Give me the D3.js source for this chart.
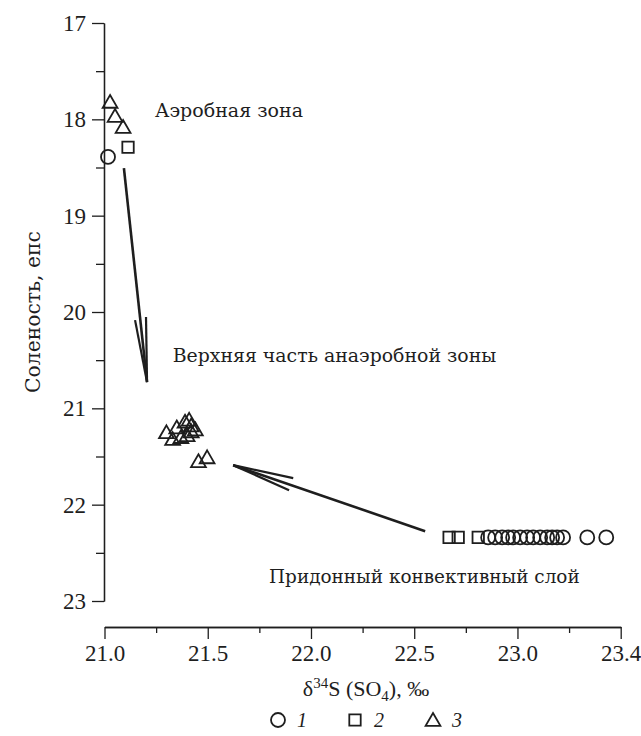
<!DOCTYPE html>
<html>
<head>
<meta charset="utf-8">
<script src="https://cdn.jsdelivr.net/npm/d3@7/dist/d3.min.js"></script>
<style>
  body { margin: 0; background: #fff; }
</style>
</head>
<body>
<svg width="641" height="736"></svg>
<script>
// --- данные ---
const xTicks = [21.0, 21.5, 22.0, 22.5, 23.0, 23.5];
const xTickLabels = ["21.0", "21.5", "22.0", "22.5", "23.0", "23.4"];
const xMinor = [21.25, 21.75, 22.25, 22.75, 23.25];
const yTicks = [17, 18, 19, 20, 21, 22, 23];
const yMinor = [17.5, 18.5, 19.5, 20.5, 21.5, 22.5];

// 1 — круги
const circles = [
  [21.017, 18.39],
  [22.858, 22.34], [22.892, 22.34], [22.926, 22.34], [22.955, 22.34], [22.979, 22.34],
  [23.013, 22.34], [23.047, 22.34], [23.076, 22.34], [23.11, 22.34], [23.144, 22.34],
  [23.168, 22.34], [23.192, 22.34], [23.221, 22.34], [23.338, 22.34], [23.43, 22.34]
];
// 2 — квадраты
const squares = [
  [21.114, 18.29],
  [22.669, 22.34], [22.713, 22.34], [22.81, 22.34]
];
// 3 — треугольники
const triangles = [
  [21.027, 17.82], [21.051, 17.966], [21.09, 18.08],
  [21.30, 21.25], [21.33, 21.32], [21.35, 21.2], [21.37, 21.3], [21.39, 21.14],
  [21.41, 21.12], [21.42, 21.18], [21.42, 21.24], [21.40, 21.28], [21.44, 21.22],
  [21.455, 21.55], [21.497, 21.51]
];

// стрелки: хвост, острие, два уса
const arrows = [
  { from: [21.094, 18.506], to: [21.206, 20.728], barbs: [[21.148, 20.084], [21.201, 20.053]] },
  { from: [22.553, 22.275], to: [21.623, 21.59], barbs: [[21.914, 21.725], [21.894, 21.85]] }
];

const notes = [
  { text: "Аэробная зона", x: 21.245, y: 17.976 },
  { text: "Верхняя часть анаэробной зоны", x: 21.33, y: 20.52 },
  { text: "Придонный конвективный слой", x: 21.797, y: 22.815 }
];

const legendItems = ["1", "2", "3"];

// --- рисунок ---
const svg = d3.select("svg");
const latin = "'Liberation Serif', 'DejaVu Serif', serif";
const cyr = "'DejaVu Serif', serif";
const ink = "#1e1e1e";

// подгонка ширины надписи
function fit(sel, target) {
  const w = sel.node().getComputedTextLength();
  sel.attr("font-size", +sel.attr("font-size") * target / w);
}

const x = d3.scaleLinear().domain([21, 23.5]).range([104.5, 620.7]);
const y = d3.scaleLinear().domain([17, 23]).range([23, 601]);

// ось Y
const gy = svg.append("g").attr("transform", "translate(104,0)");
gy.call(d3.axisLeft(y).tickValues(yTicks).tickSize(12).tickSizeOuter(0).tickPadding(6).tickFormat(d3.format("d")));
gy.append("g").call(d3.axisLeft(y).tickValues(yMinor).tickSize(8).tickSizeOuter(0).tickFormat(""));

// ось X
const gx = svg.append("g").attr("transform", "translate(0,627)");
gx.call(d3.axisBottom(x).tickValues(xTicks).tickSize(12).tickSizeOuter(0).tickPadding(6)
  .tickFormat((d, i) => xTickLabels[i]));
gx.append("g").call(d3.axisBottom(x).tickValues(xMinor).tickSize(6).tickSizeOuter(0).tickFormat(""));

svg.selectAll("g").attr("font-family", latin);
svg.selectAll(".domain, .tick line").attr("stroke", ink).attr("stroke-width", 1.3);
svg.selectAll(".tick text")
  .attr("font-size", 23).attr("fill", ink)
  .attr("font-family", latin).style("font-family", latin);

// подписи осей
const yt = svg.append("text")
  .attr("transform", "translate(40,312) rotate(-90)")
  .attr("text-anchor", "middle")
  .attr("font-family", cyr).attr("fill", ink)
  .attr("font-size", 20)
  .text("Соленость, епс");
fit(yt, 162);

const xt = svg.append("text")
  .attr("x", 366).attr("y", 696)
  .attr("text-anchor", "middle")
  .attr("font-family", latin).attr("fill", ink)
  .attr("font-size", 22);
xt.append("tspan").text("δ");
xt.append("tspan").attr("font-size", 15).attr("dy", -8).text("34");
xt.append("tspan").attr("dy", 8).text("S (SO");
xt.append("tspan").attr("font-size", 15).attr("dy", 5).text("4");
xt.append("tspan").attr("dy", -5).text("), ‰");

// стрелки
const line = d3.line().x(d => x(d[0])).y(d => y(d[1]));
arrows.forEach(a => {
  svg.append("path").attr("d", line([a.from, a.to]))
    .attr("stroke", ink).attr("stroke-width", 2.6).attr("fill", "none");
  a.barbs.forEach(b => {
    svg.append("path").attr("d", line([b, a.to]))
      .attr("stroke", ink).attr("stroke-width", 2.2).attr("fill", "none");
  });
});

// точки
function style(sel) {
  return sel.attr("fill", "none").attr("stroke", ink).attr("stroke-width", 1.8);
}
const tri = d3.symbol().type(d3.symbolTriangle).size(95);
const sq = d3.symbol().type(d3.symbolSquare).size(130);

svg.append("g").selectAll("circle").data(circles).join("circle")
  .attr("cx", d => x(d[0])).attr("cy", d => y(d[1])).attr("r", 7).call(style);
svg.append("g").selectAll("path").data(squares).join("path")
  .attr("d", sq).attr("transform", d => `translate(${x(d[0])},${y(d[1])})`).call(style);
svg.append("g").selectAll("path").data(triangles).join("path")
  .attr("d", tri).attr("transform", d => `translate(${x(d[0])},${y(d[1]) + 1.5})`).call(style);

// надписи зон
const noteWidths = [148, 324, 311];
svg.selectAll(".note").data(notes).join("text")
  .attr("class", "note")
  .attr("x", d => x(d.x)).attr("y", d => y(d.y))
  .attr("font-family", cyr).attr("fill", ink)
  .attr("font-size", 20)
  .text(d => d.text)
  .each(function (d, i) { fit(d3.select(this), noteWidths[i]); });

// легенда
const lg = svg.append("g").attr("transform", "translate(0,720)");
const lx = [278, 355, 433];
lg.append("circle").attr("cx", lx[0]).attr("cy", 0).attr("r", 7).call(style);
lg.append("path").attr("d", sq).attr("transform", `translate(${lx[1]},0)`).call(style);
lg.append("path").attr("d", tri).attr("transform", `translate(${lx[2]},1.5)`).call(style);
lg.selectAll(".lgt").data(legendItems).join("text")
  .attr("class", "lgt")
  .attr("x", (d, i) => lx[i] + 19).attr("y", 7)
  .attr("font-family", latin).attr("fill", ink)
  .attr("font-size", 20).attr("font-style", "italic")
  .text(d => d);
</script>
</body>
</html>
